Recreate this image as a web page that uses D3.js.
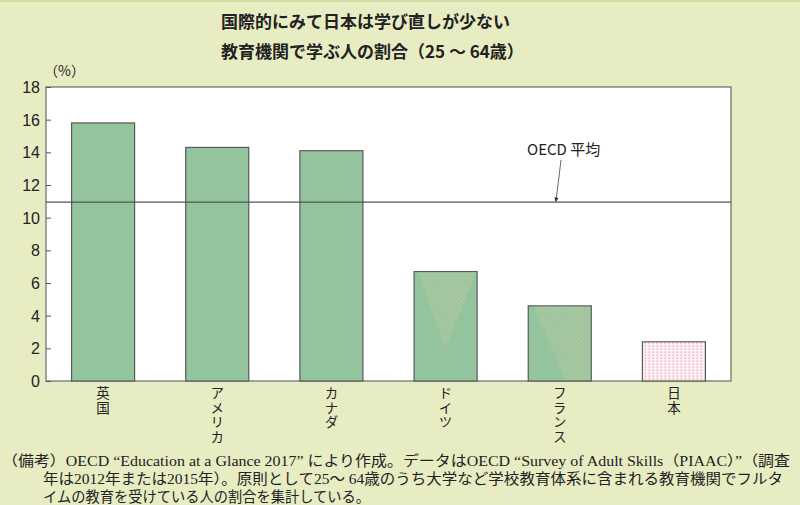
<!DOCTYPE html>
<html><head><meta charset="utf-8">
<script src="https://cdn.jsdelivr.net/npm/d3@7"></script>
<style>
html,body{margin:0;padding:0;background:#e7ecc3;}
svg{display:block;}
</style></head>
<body>
<script>
const categories = ["英国","アメリカ","カナダ","ドイツ","フランス","日本"];
const values = [15.8, 14.3, 14.1, 6.7, 4.6, 2.4];
const oecdAverage = 10.95;
const yTicks = [0,2,4,6,8,10,12,14,16,18];
const titleLines = ["国際的にみて日本は学び直しが少ない","教育機関で学ぶ人の割合（25 ～ 64歳）"];
const noteLines = [
  "（備考）OECD “Education at a Glance 2017” により作成。データはOECD “Survey of Adult Skills（PIAAC）”（調査",
  "年は2012年または2015年）。原則として25～ 64歳のうち大学など学校教育体系に含まれる教育機関でフルタ",
  "イムの教育を受けている人の割合を集計している。"
];

(function(){
const W = 800, H = 505;
const svg = d3.select("body").append("svg").attr("width", W).attr("height", H);
const defs = svg.append("defs");
const pd = defs.append("pattern").attr("id","dots").attr("patternUnits","userSpaceOnUse").attr("width",5).attr("height",5);
pd.append("rect").attr("width",5).attr("height",5).attr("fill","#9cc7a0");
pd.append("circle").attr("cx",1.2).attr("cy",1.2).attr("r",0.7).attr("fill","#e0b98a");
pd.append("circle").attr("cx",3.7).attr("cy",3.7).attr("r",0.6).attr("fill","#d9c29a");
const pp = defs.append("pattern").attr("id","pink").attr("patternUnits","userSpaceOnUse").attr("width",4).attr("height",3);
pp.append("rect").attr("width",4).attr("height",3).attr("fill","#fdf3f5");
pp.append("rect").attr("x",0.5).attr("y",0.5).attr("width",1.6).attr("height",1.2).attr("fill","#ee9fb6");

svg.append("rect").attr("x",0).attr("y",0).attr("width",W).attr("height",2).attr("fill","#cfdca2");

const font = "'Noto Sans CJK JP','Noto Sans',sans-serif";
svg.append("g").selectAll("text").data(titleLines).join("text")
  .attr("x",221).attr("y",(d,i)=>28 + i*30)
  .attr("font-family",font).attr("font-weight","bold").attr("font-size",17).attr("fill","#222")
  .text(d=>d);

const pL = 46, pR = 731, pT = 87, pB = 381;
const x = d3.scaleBand().domain(categories).range([pL,pR]).paddingInner(0.448).paddingOuter(0.224);
const y = d3.scaleLinear().domain([0,18]).range([pB,pT]);

svg.append("rect").attr("x",pL).attr("y",pT).attr("width",pR-pL).attr("height",pB-pT)
  .attr("fill","#fff").attr("stroke","#6a6a6a").attr("stroke-width",1.2);

const bars = svg.append("g");
bars.selectAll("rect").data(categories).join("rect")
  .attr("x",d=>x(d)).attr("y",(d,i)=>y(values[i]))
  .attr("width",x.bandwidth()).attr("height",(d,i)=>y(0)-y(values[i]))
  .attr("fill",(d,i)=> i===5 ? "url(#pink)" : "#94c49d")
  .attr("stroke","#5a5a5a").attr("stroke-width",1.2);

const bw = x.bandwidth();
const gx = x("ドイツ"), gt = y(values[3]);
svg.append("path").attr("fill","url(#dots)")
  .attr("d",`M${gx+4},${gt+1}L${gx+bw-1},${gt+1}L${gx+bw/2},${y(2.0)}Z`);
const fx = x("フランス"), ft = y(values[4]);
svg.append("path").attr("fill","url(#dots)")
  .attr("d",`M${fx+5},${ft+1}L${fx+bw-1},${ft+1}L${fx+bw-1},${y(0)-1}L${fx+bw*0.6},${y(0)-1}Z`);

svg.append("line").attr("x1",pL).attr("x2",pR).attr("y1",y(oecdAverage)).attr("y2",y(oecdAverage))
  .attr("stroke","#555").attr("stroke-width",1.1);
defs.append("marker").attr("id","arr").attr("viewBox","0 0 6 6").attr("refX",5).attr("refY",3)
  .attr("markerWidth",5).attr("markerHeight",5).attr("orient","auto")
  .append("path").attr("d","M0,0L6,3L0,6Z").attr("fill","#333");
svg.append("line").attr("x1",561).attr("y1",160).attr("x2",556).attr("y2",y(oecdAverage)-1)
  .attr("stroke","#555").attr("stroke-width",0.9).attr("marker-end","url(#arr)");
svg.append("text").attr("x",527).attr("y",155).attr("font-family",font).attr("font-size",15).attr("fill","#222").text("OECD 平均");

const ax = svg.append("g").attr("transform",`translate(${pL},0)`)
  .call(d3.axisRight(y).tickValues(yTicks).tickSize(5).tickFormat(""));
ax.select(".domain").remove();
ax.selectAll("line").attr("stroke","#555");
svg.append("g").selectAll("text").data(yTicks).join("text")
  .attr("x",40).attr("y",d=>y(d)+6).attr("text-anchor","end")
  .attr("font-family","'Liberation Sans',Arial,sans-serif").attr("font-size",16).attr("fill","#222").text(d=>d);
svg.append("text").attr("x",44).attr("y",76).attr("font-family",font).attr("font-size",14).attr("fill","#222").text("（%）");

svg.append("g").selectAll("text").data(categories).join("text")
  .attr("x",d=>x(d)+bw/2).attr("y",386)
  .attr("writing-mode","vertical-rl").style("writing-mode","vertical-rl")
  .style("text-orientation","upright")
  .attr("letter-spacing",1.2)
  .attr("font-family",font).attr("font-size",13.5).attr("fill","#222").text(d=>d);

const noteX = [2,43,43];
const noteW = [788,740,327];
svg.append("g").selectAll("text").data(noteLines).join("text")
  .attr("x",(d,i)=>noteX[i]).attr("y",(d,i)=>466 + i*18)
  .attr("font-family","'Liberation Serif','Noto Sans CJK JP',serif")
  .attr("font-size",14.5).attr("fill","#222")
  .attr("textLength",(d,i)=>noteW[i]).attr("lengthAdjust","spacingAndGlyphs")
  .text(d=>d);
})();
</script>
</body></html>
